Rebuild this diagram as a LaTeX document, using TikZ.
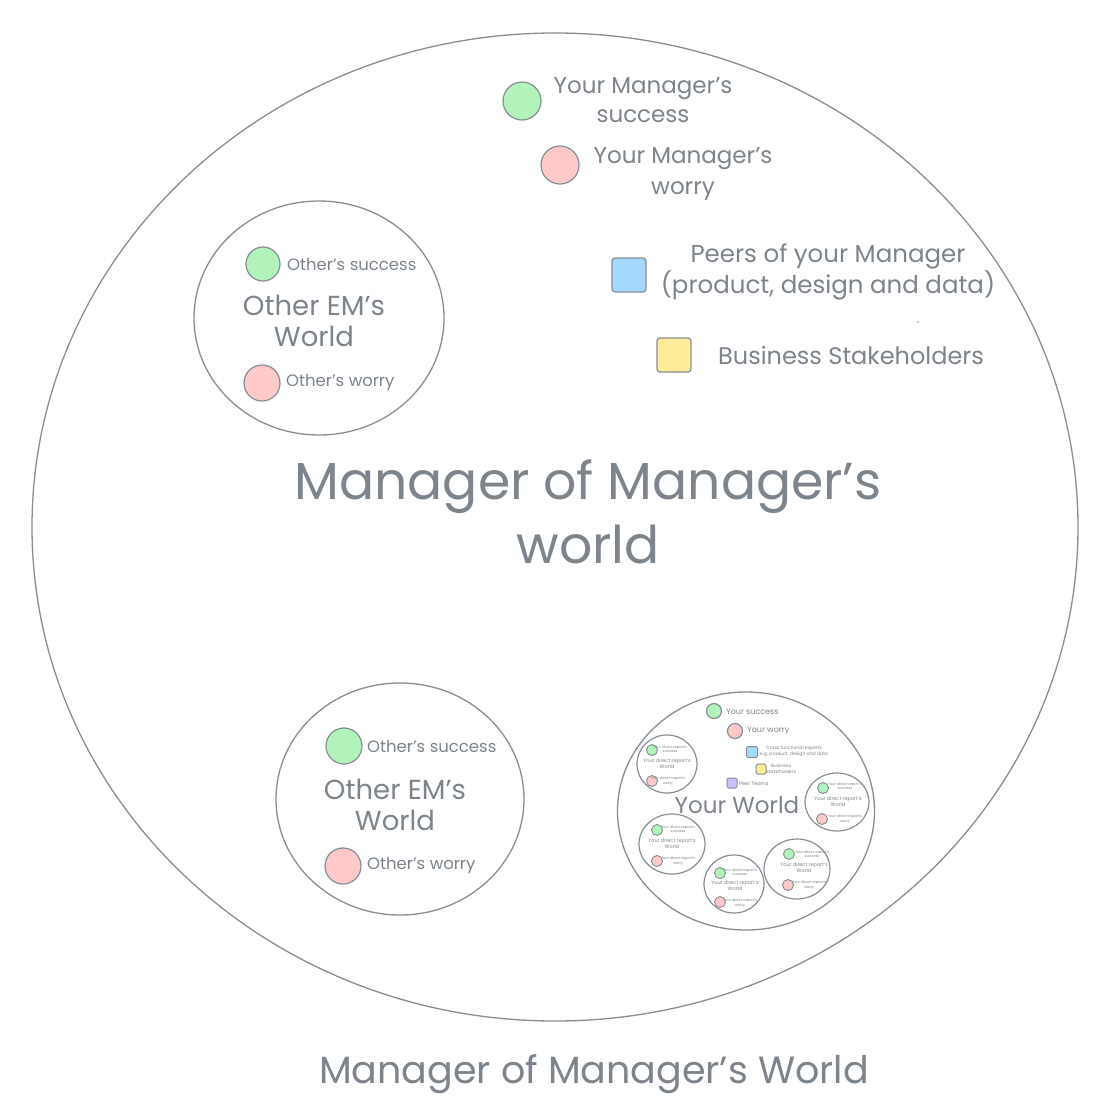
\documentclass[tikz,border=0pt]{standalone}
\usepackage{fontspec}
\setmainfont{Poppins}
\usetikzlibrary{shapes.geometric}
\definecolor{ln}{HTML}{868E96}
\definecolor{tx}{HTML}{7D848B}
\definecolor{gf}{HTML}{B2F2BB}
\definecolor{rf}{HTML}{FFC9C9}
\definecolor{bf}{HTML}{A5D8FF}
\definecolor{yf}{HTML}{FFEC99}
\definecolor{pf}{HTML}{D0BFFF}
\begin{document}
\begin{tikzpicture}[x=1pt,y=-1pt,
  ring/.style={ellipse, draw=ln, line width=1.3pt, inner sep=0},
  gdot/.style={circle, draw=ln, fill=gf, line width=1.2pt, inner sep=0, minimum size=#1},
  rdot/.style={circle, draw=ln, fill=rf, line width=1.2pt, inner sep=0, minimum size=#1},
  sqr/.style={rounded corners=3pt, draw=ln, line width=1.2pt, inner sep=0, minimum size=#1},
  t/.style={text=tx, inner sep=0, align=center},
  tl/.style={text=tx, inner sep=0, anchor=west}]
\useasboundingbox[fill=white] (0,0) rectangle (1094,1112);

% big world
\node[ring, minimum width=1046pt, minimum height=988pt] (big) at (555,527) {};
\node[t, font=\fontsize{52}{64}\selectfont] (bigt) at (588,512) {Manager of Manager's\\world};
\node[t, font=\fontsize{38}{44}\selectfont] (cap) at (594,1074) {Manager of Manager's World};

% manager success/worry
\node[gdot=38pt] (ms) at (522,101) {};
\node[t, font=\fontsize{23}{29}\selectfont] (mst) at (643,100) {Your Manager's\\success};
\node[rdot=38pt] (mw) at (560,165) {};
\node[t, font=\fontsize{23}{31}\selectfont] (mwt) at (683,174) {Your Manager's\\worry};
\node[sqr=34pt, fill=bf] (peer) at (629,275) {};
\node[t, font=\fontsize{24.5}{31}\selectfont] (peert) at (828,272) {Peers of your Manager\\(product, design and data)};
\node[sqr=34pt, fill=yf] (biz) at (674,355) {};
\node[tl, font=\fontsize{24}{26}\selectfont] (bizt) at (718,355) {Business Stakeholders};
\fill[ln] (918,322) circle (0.8pt);

% other EM world top
\node[ring, minimum width=250pt, minimum height=234pt] (em1) at (319,318) {};
\node[gdot=34pt] (em1s) at (263,264) {};
\node[tl, font=\fontsize{16.5}{18}\selectfont] (em1st) at (287,264) {Other's success};
\node[t, font=\fontsize{27.5}{31}\selectfont] (em1t) at (314,321) {Other EM's\\World};
\node[rdot=36pt] (em1w) at (262,383) {};
\node[tl, font=\fontsize{16.5}{18}\selectfont] (em1wt) at (286,383) {Other's worry};

% other EM world bottom
\node[ring, minimum width=248pt, minimum height=232pt] (em2) at (400,799) {};
\node[gdot=36pt] (em2s) at (344,746) {};
\node[tl, font=\fontsize{16.5}{18}\selectfont] (em2st) at (367,746) {Other's success};
\node[t, font=\fontsize{27.5}{31}\selectfont] (em2t) at (395,805) {Other EM's\\World};
\node[rdot=36pt] (em2w) at (343,866) {};
\node[tl, font=\fontsize{16.5}{18}\selectfont] (em2wt) at (367,866) {Other's worry};

% your world
\node[ring, minimum width=257pt, minimum height=238pt] (yw) at (746,811) {};
\node[gdot=15pt] (yws) at (714,711) {};
\node[tl, font=\fontsize{8}{9}\selectfont] (ywst) at (726,712) {Your success};
\node[rdot=15pt] (yww) at (735,731) {};
\node[tl, font=\fontsize{8}{9}\selectfont] (ywwt) at (747,731) {Your worry};
\node[sqr=11pt, rounded corners=1.5pt, fill=bf, line width=1pt] (ywx) at (752,752) {};
\node[t, font=\fontsize{4.6}{6}\selectfont] (ywxt) at (794,751) {Cross functional experts\\e.g. product, design and data};
\node[sqr=10pt, rounded corners=1.5pt, fill=yf, line width=1pt] (ywb) at (761,769) {};
\node[t, font=\fontsize{4.6}{6}\selectfont] (ywbt) at (781,768.5) {Business\\Stakeholders};
\node[sqr=10pt, rounded corners=1.5pt, fill=pf, line width=1pt] (ywp) at (732,783) {};
\node[tl, font=\fontsize{5}{6}\selectfont] (ywpt) at (739,784) {Peer Teams};
\node[t, font=\fontsize{23}{25}\selectfont] (ywt) at (737,805) {Your World};

% direct report worlds
\foreach \n/\cx/\cy/\rx/\ry/\gx/\gy/\stx/\sty/\wx/\wy/\rdx/\rdy/\wtx/\wty in {
  a/667/764/60/58/652/750/670/749/667/764/652/781/668/781,
  b/837/802/64/58/823/788/845/786/838/802/822/819/845/819,
  c/672/844/66/60/657/830/678/829/672/844/657/861/678/861,
  d/797/869/66/60/789/854/812/854/804/868/788/885/809/885,
  e/734/884/60/58/720/873/740/872/735/886/720/902/740/903}{
  \node[ring, line width=1.2pt, minimum width=\rx pt, minimum height=\ry pt] (dr\n) at (\cx,\cy) {};
  \node[gdot=11pt, line width=0.9pt] (dr\n s) at (\gx,\gy) {};
  \node[t, font=\fontsize{3.6}{4.6}\selectfont] (dr\n st) at (\stx,\sty) {Your direct report's\\success};
  \node[t, font=\fontsize{5}{6}\selectfont] (dr\n t) at (\wx,\wy) {Your direct report's\\World};
  \node[rdot=11pt, line width=0.9pt] (dr\n w) at (\rdx,\rdy) {};
  \node[t, font=\fontsize{3.6}{4.6}\selectfont] (dr\n wt) at (\wtx,\wty) {Your direct report's\\worry};
}
\end{tikzpicture}
\end{document}
